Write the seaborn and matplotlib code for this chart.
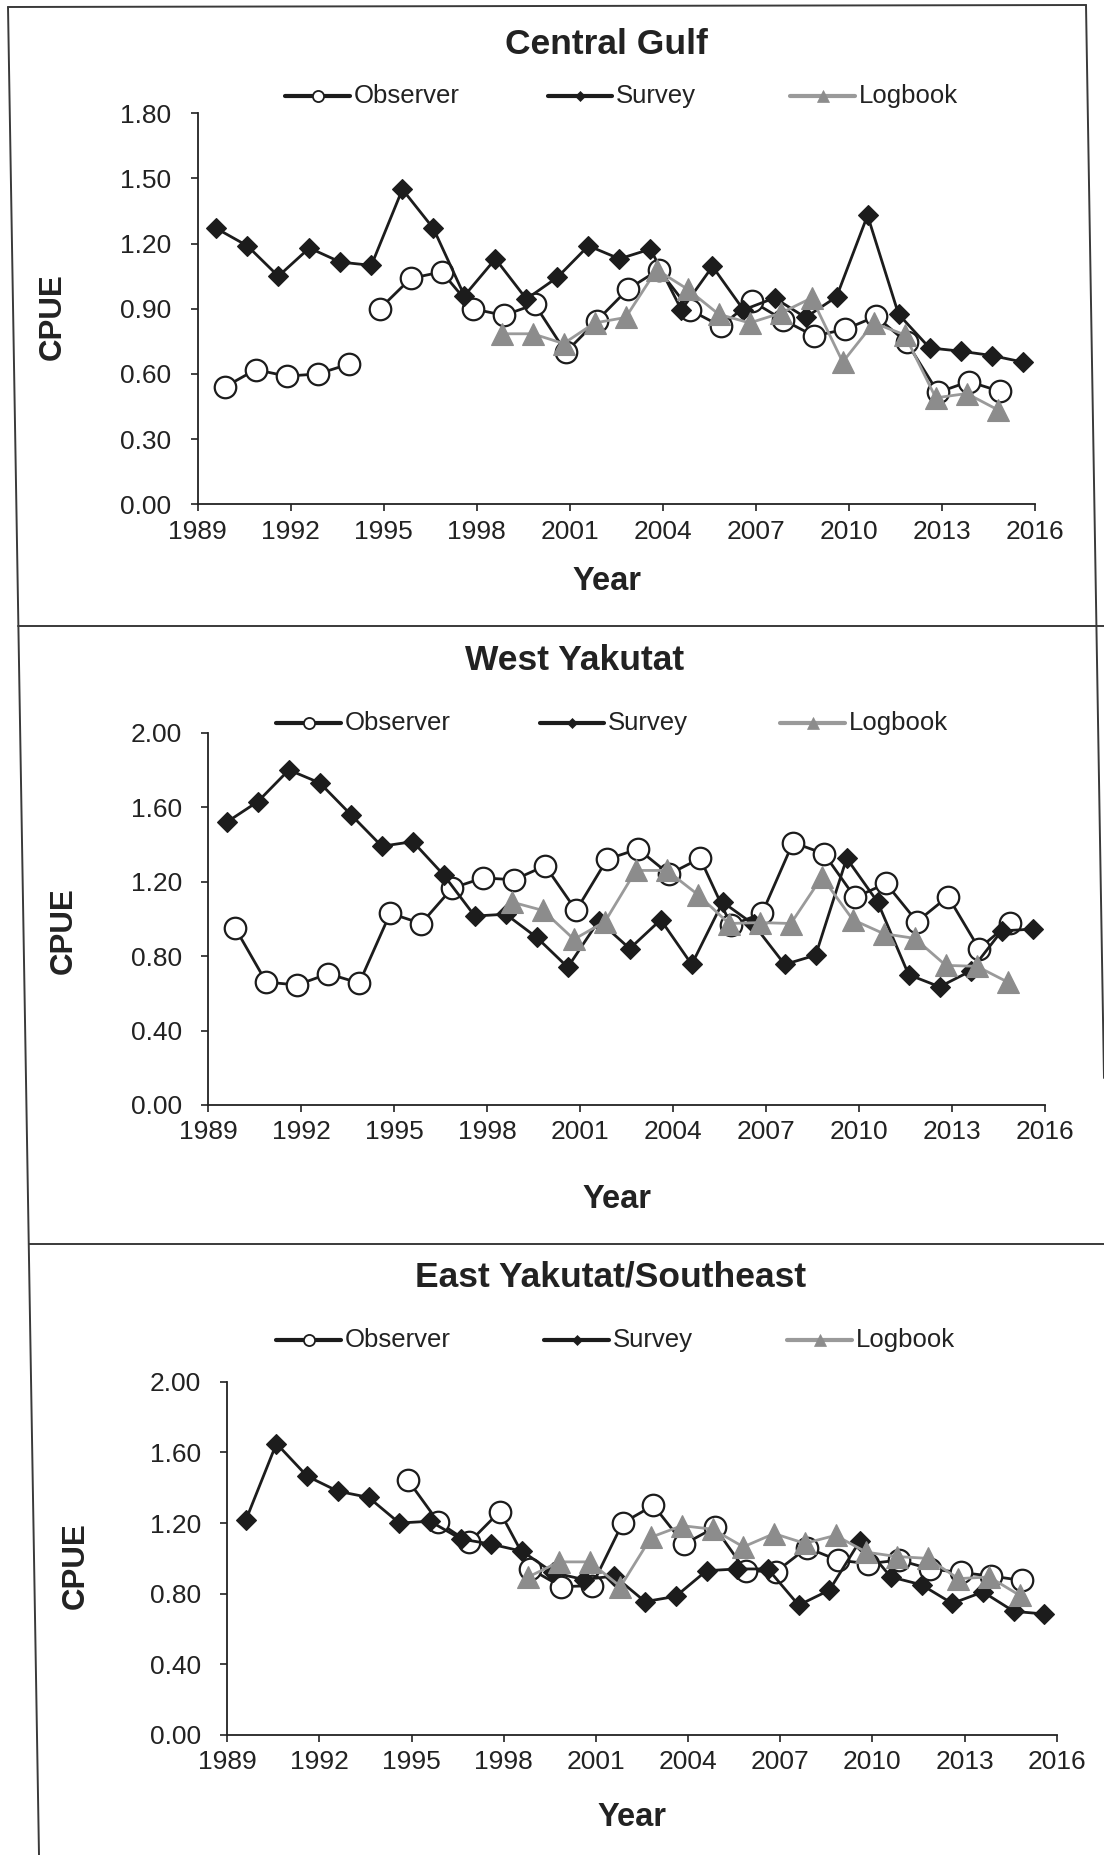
import numpy as np
import pandas as pd
import matplotlib
matplotlib.use("Agg")
import matplotlib.pyplot as plt
import seaborn as sns
from matplotlib.lines import Line2D

# CPUE by year
survey_years = list(range(1990, 2017))
observer_years = list(range(1990, 2016))
logbook_years = list(range(1999, 2016))
ey_observer_years = list(range(1995, 2016))

cg_survey = [1.27, 1.19, 1.05, 1.18, 1.115, 1.10, 1.45, 1.27, 0.96, 1.13, 0.945, 1.045, 1.19, 1.13,
             1.175, 0.895, 1.095, 0.895, 0.95, 0.86, 0.955, 1.33, 0.875, 0.72, 0.705, 0.685, 0.655]
cg_observer = [0.54, 0.62, 0.59, 0.60, 0.645, 0.90, 1.04, 1.07, 0.90, 0.87, 0.92, 0.70, 0.845,
               0.99, 1.08, 0.895, 0.82, 0.935, 0.85, 0.775, 0.805, 0.865, 0.745, 0.515, 0.565, 0.52]
cg_logbook = [0.785, 0.785, 0.74, 0.835, 0.86, 1.08, 0.99, 0.875, 0.835, 0.88, 0.95, 0.655,
              0.835, 0.78, 0.49, 0.51, 0.435]
cg_observer_break = 1995  # observer line is not joined between 1994 and 1995

wy_survey = [1.52, 1.63, 1.80, 1.73, 1.56, 1.39, 1.415, 1.235, 1.015, 1.025, 0.90, 0.74, 0.99, 0.84,
             0.995, 0.755, 1.09, 0.97, 0.755, 0.805, 1.325, 1.09, 0.70, 0.635, 0.72, 0.935, 0.945]
wy_observer = [0.95, 0.66, 0.645, 0.705, 0.655, 1.03, 0.975, 1.165, 1.22, 1.21, 1.285, 1.045, 1.32,
               1.375, 1.24, 1.325, 0.965, 1.03, 1.41, 1.35, 1.115, 1.19, 0.985, 1.12, 0.84, 0.98]
wy_logbook = [1.09, 1.045, 0.89, 0.985, 1.26, 1.26, 1.13, 0.975, 0.98, 0.975, 1.225, 0.995,
              0.92, 0.895, 0.75, 0.745, 0.66]

ey_survey = [1.215, 1.65, 1.465, 1.38, 1.345, 1.20, 1.21, 1.11, 1.08, 1.04, 0.92, 0.88, 0.90, 0.755,
             0.785, 0.93, 0.94, 0.94, 0.735, 0.82, 1.10, 0.895, 0.85, 0.745, 0.81, 0.70, 0.685]
ey_observer = [1.445, 1.205, 1.09, 1.265, 0.94, 0.84, 0.845, 1.20, 1.30, 1.08, 1.175, 0.93, 0.925,
               1.06, 0.99, 0.97, 0.99, 0.94, 0.92, 0.90, 0.875]
ey_logbook = [0.895, 0.98, 0.98, 0.84, 1.12, 1.185, 1.165, 1.065, 1.14, 1.085, 1.13, 1.035,
              1.01, 1.0, 0.885, 0.895, 0.79]

titles = ["Central Gulf", "West Yakutat", "East Yakutat/Southeast"]
tick_years = list(range(1989, 2017, 3))
legend_names = ["Observer", "Survey", "Logbook"]

# --- layout (pixels of the 1104 x 1855 page) ---
W, H = 1104, 1855
sns.set_style("ticks")
plt.rcParams["font.family"] = ["Liberation Sans", "DejaVu Sans"]

INK = "#1c1c1c"
GREY = "#8c8c8c"
GREY_LINE = "#9a9a9a"

fig = plt.figure(figsize=(W / 100, H / 100), dpi=100)
page = fig.add_axes([0, 0, 1, 1])
page.set_xlim(0, W)
page.set_ylim(H, 0)
page.axis("off")
page.patch.set_visible(False)

# scanned frame around the panels
frame_kw = dict(color="#3a3a3a", lw=1.4)
page.plot([8, 1086], [7, 5], **frame_kw)
page.plot([8, 39], [7, 1855], **frame_kw)
page.plot([1086, 1104], [5, 1078], **frame_kw)
page.plot([18, 1104], [626, 626], **frame_kw)
page.plot([29, 1104], [1244, 1244], **frame_kw)

panels = [
    dict(box=(197.7, 113.3, 1035, 504.3), ymax=1.8, ystep=0.3,
         survey=cg_survey, observer=cg_observer, obs_years=observer_years,
         obs_break=cg_observer_break, logbook=cg_logbook,
         title_xy=(606, 45), year_xy=(607, 582), cpue_xy=(53, 317),
         leg_y=96, leg_x=[(285, 350), (548, 612), (790, 855)]),
    dict(box=(208.3, 732.7, 1045, 1105), ymax=2.0, ystep=0.4,
         survey=wy_survey, observer=wy_observer, obs_years=observer_years,
         obs_break=None, logbook=wy_logbook,
         title_xy=(575, 660), year_xy=(617, 1199), cpue_xy=(64, 931),
         leg_y=723, leg_x=[(276, 341), (540, 604), (780, 845)]),
    dict(box=(227.3, 1381.7, 1056.7, 1735), ymax=2.0, ystep=0.4,
         survey=ey_survey, observer=ey_observer, obs_years=ey_observer_years,
         obs_break=None, logbook=ey_logbook,
         title_xy=(611, 1277), year_xy=(632, 1818), cpue_xy=(76, 1566),
         leg_y=1340, leg_x=[(276, 341), (544, 609), (787, 852)]),
]

# where each source sits inside its year slot
SURVEY_SHIFT, OBS_SHIFT, LOG_SHIFT = -0.4, -0.13, -0.2


def series(ax, xs, ys, units, zorder, **kw):
    df = pd.DataFrame({"x": xs, "y": ys, "seg": units})
    sns.lineplot(data=df, x="x", y="y", units="seg", estimator=None, sort=False,
                 ax=ax, legend=False, zorder=zorder, clip_on=False, **kw)


for i, p in enumerate(panels):
    l, t, r, b = p["box"]
    ax = fig.add_axes([l / W, 1 - b / H, (r - l) / W, (b - t) / H])
    ax.patch.set_visible(False)

    obs_x = np.array(p["obs_years"]) + OBS_SHIFT
    if p["obs_break"] is None:
        obs_units = np.zeros(len(obs_x))
    else:
        obs_units = (np.array(p["obs_years"]) >= p["obs_break"]).astype(int)

    series(ax, obs_x, p["observer"], obs_units, 3, color=INK, lw=2.0,
           marker="o", markersize=15.5, markerfacecolor="white",
           markeredgecolor=INK, markeredgewidth=1.6)
    series(ax, np.array(survey_years) + SURVEY_SHIFT, p["survey"],
           np.zeros(len(survey_years)), 4, color=INK, lw=2.0,
           marker="D", markersize=10.5, markerfacecolor=INK,
           markeredgecolor=INK, markeredgewidth=0.8)
    series(ax, np.array(logbook_years) + LOG_SHIFT, p["logbook"],
           np.zeros(len(logbook_years)), 5, color=GREY_LINE, lw=2.0,
           marker="^", markersize=15.5, markerfacecolor=GREY,
           markeredgecolor=GREY, markeredgewidth=0.8)

    ax.set_xlim(tick_years[0], tick_years[-1])
    ax.set_ylim(0, p["ymax"])
    ax.set_xticks(tick_years)
    ax.set_xticklabels([str(y) for y in tick_years])
    yt = np.arange(0, p["ymax"] + 1e-9, p["ystep"])
    ax.set_yticks(yt)
    ax.set_yticklabels([f"{v:.2f}" for v in yt])
    ax.set_xlabel("")
    ax.set_ylabel("")
    for side in ["top", "right"]:
        ax.spines[side].set_visible(False)
    for side in ["left", "bottom"]:
        ax.spines[side].set_color("#222222")
        ax.spines[side].set_linewidth(1.3)
    ax.tick_params(axis="both", direction="out", length=5, width=1.2,
                   colors="#222222", labelsize=19)
    ax.tick_params(axis="y", pad=14)
    ax.tick_params(axis="x", pad=6)

    # panel texts
    page.text(*p["title_xy"], titles[i], ha="center", va="center",
              fontsize=25.5, fontweight="bold", color="#222222")
    page.text(*p["year_xy"], "Year", ha="center", va="center",
              fontsize=23.5, fontweight="bold", color="#222222")
    page.text(*p["cpue_xy"], "CPUE", ha="center", va="center", rotation=90,
              fontsize=22.5, fontweight="bold", color="#222222")

    # hand-placed legend row
    leg_styles = [
        dict(color=INK, marker="o", ms=8, mfc="white", mec=INK, mew=1.3),
        dict(color=INK, marker="D", ms=5.5, mfc=INK, mec=INK, mew=0.5),
        dict(color=GREY_LINE, marker="^", ms=8, mfc=GREY, mec=GREY, mew=0.5),
    ]
    for (x0, x1), name, st in zip(p["leg_x"], legend_names, leg_styles):
        page.add_line(Line2D([x0, x1], [p["leg_y"], p["leg_y"]], lw=3, **st,
                             markevery=[]))
        page.plot([(x0 + x1) / 2], [p["leg_y"]], linestyle="none",
                  marker=st["marker"], ms=st["ms"], mfc=st["mfc"],
                  mec=st["mec"], mew=st["mew"])
        page.text(x1 + 4, p["leg_y"], name, ha="left", va="center",
                  fontsize=18.5, color="#222222")

fig.savefig("out.png", dpi=100)
